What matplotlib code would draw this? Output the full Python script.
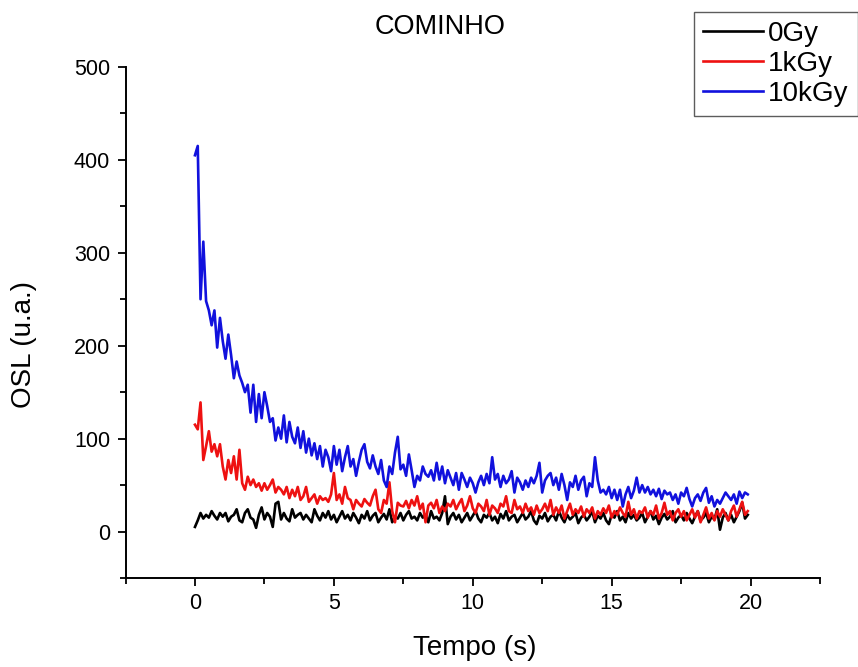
import numpy as np
import matplotlib.pyplot as plt
from matplotlib.ticker import MultipleLocator

plt.rcParams['font.family'] = ['Liberation Sans', 'DejaVu Sans']

# ----------------------------
# OSL decay curves, sampled every 0.1 s
# ----------------------------
dose_labels = ["0Gy", "1kGy", "10kGy"]
colors = ["black", "#ee1111", "#1111dd"]

osl_0gy = [
    5, 12, 20, 14, 18, 15, 22, 17, 13, 20,
    16, 20, 11, 16, 18, 24, 12, 10, 20, 24,
    15, 13, 4, 18, 26, 13, 20, 16, 5, 30,
    32, 13, 20, 14, 11, 24, 15, 18, 20, 13,
    18, 14, 10, 24, 17, 12, 20, 15, 22, 13,
    18, 10, 16, 22, 14, 18, 12, 20, 15, 9,
    18, 14, 22, 12, 17, 20, 10, 15, 19, 13,
    24, 10, 16, 14, 20, 12, 18, 22, 14, 16,
    12, 20, 15, 18, 10, 22, 14, 16, 12, 20,
    38, 8, 16, 20, 13, 18, 10, 15, 20, 12,
    17, 22, 14, 10, 18, 15, 20, 12, 16, 9,
    19, 14, 22, 12, 16, 18, 10, 15, 20, 13,
    16, 22, 12, 8, 17, 14, 20, 11, 16, 18,
    12, 22, 15, 10, 18, 13, 16, 20, 9, 15,
    18, 12, 16, 22, 10, 17, 14, 20, 12, 8,
    18, 15, 22, 12, 16, 10, 20, 14, 18, 12,
    15, 20, 10, 16, 22, 13, 17, 8, 15, 19,
    13, 16, 22, 10, 15, 18, 12, 20, 14, 9,
    16, 22, 12, 15, 20, 10, 16, 13, 24, 2,
    15, 20, 12, 18, 10, 16, 22, 31, 14, 18,
]

osl_1kgy = [
    115, 110, 139, 77, 92, 108, 86, 94, 81, 94,
    70, 56, 77, 63, 81, 56, 88, 52, 45, 59,
    50, 56, 48, 52, 44, 52, 45, 50, 56, 42,
    48, 45, 40, 48, 36, 45, 38, 48, 34, 38,
    48, 32, 36, 40, 30, 38, 34, 36, 32, 40,
    63, 34, 40, 30, 48, 36, 34, 24, 34, 30,
    27, 35, 31, 28, 38, 45, 24, 20, 34, 30,
    53, 22, 10, 31, 28, 27, 33, 25, 34, 28,
    38, 24, 30, 10, 28, 31, 25, 34, 20, 27,
    22, 30, 27, 34, 24, 30, 35, 22, 28, 38,
    25, 20, 30, 27, 22, 34, 18, 28, 25, 20,
    30, 27, 38, 22, 20, 34, 24, 27, 20, 30,
    22, 26, 18, 28, 20, 24, 30, 22, 34, 18,
    26, 20, 28, 14, 22, 30, 18, 24, 20, 27,
    16, 24, 20, 26, 14, 22, 18, 25, 20, 28,
    15, 22, 18, 26, 20, 16, 32, 18, 24, 14,
    22, 20, 26, 15, 22, 18, 28, 14, 20, 31,
    18, 22, 12, 20, 24, 16, 22, 12, 18, 24,
    15, 22, 10, 18, 26, 14, 20, 12, 22, 16,
    24, 18, 12, 22, 28, 16, 24, 32, 18, 22,
]

osl_10kgy = [
    405, 415, 250, 312, 248, 238, 222, 238, 198, 230,
    205, 186, 212, 190, 165, 183, 168, 160, 150, 158,
    128, 158, 118, 148, 122, 150, 135, 118, 122, 98,
    112, 100, 125, 96, 118, 102, 95, 112, 90, 108,
    85, 100, 82, 95, 78, 92, 70, 88, 80, 65,
    92, 72, 88, 65, 80, 92, 70, 78, 60, 75,
    88, 94, 75, 68, 82, 70, 62, 77, 55, 48,
    70, 62, 85, 102, 67, 72, 60, 83, 66, 48,
    60, 55, 70, 62, 59, 66, 55, 74, 56, 70,
    52, 66, 58, 50, 63, 45, 63, 56, 48, 58,
    52, 42, 53, 60, 50, 62, 52, 80, 56, 62,
    48, 60, 52, 56, 65, 42, 58, 53, 45, 55,
    48, 58, 52, 60, 74, 42, 55, 60, 63, 50,
    58, 45, 62, 50, 34, 53, 48, 60, 45, 55,
    59, 38, 52, 48, 80, 55, 42, 45, 40, 48,
    36, 45, 34, 45, 27, 40, 48, 36, 44, 58,
    42, 50, 42, 48, 40, 45, 38, 46, 35, 44,
    40, 42, 34, 40, 30, 42, 38, 47, 35, 27,
    36, 40, 33, 42, 47, 31, 38, 27, 34, 30,
    36, 42, 38, 34, 40, 30, 43, 36, 42, 40,
]

time_s = np.round(np.arange(len(osl_0gy)) * 0.1, 1)

# ----------------------------
# Plot
# ----------------------------
fig = plt.figure(figsize=(8.58, 6.67), dpi=100)
ax = fig.add_axes([0.1463, 0.1334, 0.8094, 0.7662])

lines = []
for vals, lab, c in zip([osl_0gy, osl_1kgy, osl_10kgy], dose_labels, colors):
    ln, = ax.plot(time_s, vals, color=c, lw=1.9, label=lab)
    lines.append(ln)

ax.set_xlim(-2.5, 22.5)
ax.set_ylim(-50, 500)
ax.xaxis.set_major_locator(MultipleLocator(5))
ax.xaxis.set_minor_locator(MultipleLocator(2.5))
ax.yaxis.set_major_locator(MultipleLocator(100))
ax.yaxis.set_minor_locator(MultipleLocator(50))

for side in ["top", "right"]:
    ax.spines[side].set_visible(False)
for side in ["left", "bottom"]:
    ax.spines[side].set_linewidth(1.4)
ax.tick_params(which="major", direction="out", length=6, width=1.3,
               labelsize=15.5, colors="black", pad=5)
ax.tick_params(which="minor", direction="out", length=4, width=1.3)

ax.set_xlabel("Tempo (s)", fontsize=20)
ax.set_ylabel("OSL (u.a.)", fontsize=20)
ax.xaxis.set_label_coords(0.503, -0.112)
ax.yaxis.set_label_coords(-0.127, 0.456)

fig.text(440 / 858, 1 - 27 / 667, "COMINHO", fontsize=19.5, ha="center", va="center")

leg = fig.legend(handles=lines, loc="upper left", bbox_to_anchor=(694 / 858, 1 - 12 / 667),
                 fontsize=20, frameon=True, fancybox=False, handlelength=2.15,
                 handletextpad=0.2, labelspacing=0.14, borderpad=0.32,
                 borderaxespad=0)
leg.get_frame().set_edgecolor("#333333")
leg.get_frame().set_linewidth(1.0)
for h in leg.legend_handles:
    h.set_linewidth(1.9)

fig.savefig("out.png", dpi=100)
